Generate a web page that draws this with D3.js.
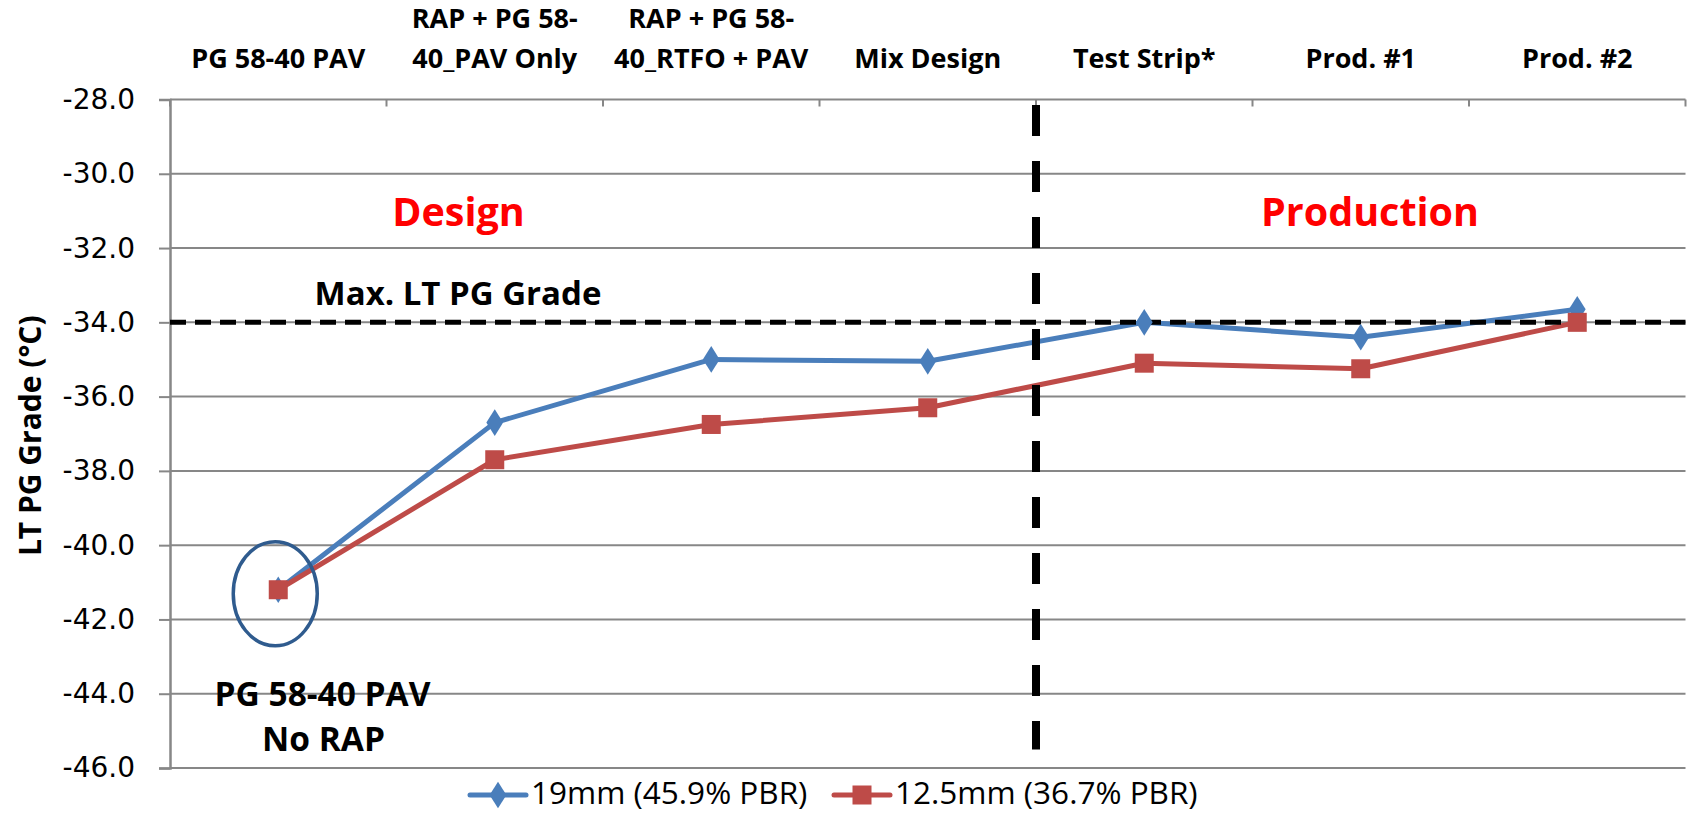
<!DOCTYPE html>
<html>
<head>
<meta charset="utf-8">
<script src="https://cdn.jsdelivr.net/npm/d3@7/dist/d3.min.js"></script>
<style>
  html, body { margin: 0; padding: 0; background: #fff; }
  svg { display: block; }
  .bold { font-family: "Open Sans", "Liberation Sans", sans-serif; font-weight: 700; }
  .tick-label { font-family: "DejaVu Sans", Verdana, sans-serif; }
</style>
</head>
<body>
<svg id="chart" width="1688" height="813"></svg>
<script>
// Stages of the mix, left to right
const categories = [
  ["PG 58-40 PAV"],
  ["RAP + PG 58-", "40_PAV Only"],
  ["RAP + PG 58-", "40_RTFO + PAV"],
  ["Mix Design"],
  ["Test Strip*"],
  ["Prod. #1"],
  ["Prod. #2"]
];
const categoryKeys = ["pav", "rapPav", "rapRtfo", "mix", "strip", "prod1", "prod2"];

// Low-temperature PG grade (°C) per stage
const series19mm  = [-41.2, -36.7, -35.0, -35.05, -34.0, -34.4, -33.65];
const series125mm = [-41.2, -37.7, -36.75, -36.3, -35.1, -35.25, -34.0];

const seriesNames = ["19mm (45.9% PBR)", "12.5mm (36.7% PBR)"];
const yTicks = [-28, -30, -32, -34, -36, -38, -40, -42, -44, -46];
const maxGrade = -34;
const designEndIndex = 3; // last design stage before production starts

const svg = d3.select("#chart");
const plot = { left: 170, right: 1685.5, top: 99.5, bottom: 768 };

const x = d3.scaleBand().domain(categoryKeys).range([plot.left, plot.right]).padding(0);
const y = d3.scaleLinear().domain([-28, -46]).range([plot.top, plot.bottom]);

const gridColor = "#878787";
const blue = "#4A7EBB";
const red = "#BE4B48";

// Horizontal gridlines
svg.append("g").selectAll("line").data(yTicks).join("line")
  .attr("x1", plot.left).attr("x2", plot.right)
  .attr("y1", d => y(d)).attr("y2", d => y(d))
  .attr("stroke", gridColor).attr("stroke-width", 2);

// Left value axis
const yAxis = svg.append("g").attr("transform", `translate(${plot.left},0)`)
  .call(d3.axisLeft(y).tickValues(yTicks).tickSize(11).tickPadding(24).tickFormat(d3.format(".1f")));
yAxis.select(".domain").attr("stroke", gridColor).attr("stroke-width", 2.5);
yAxis.selectAll(".tick line").attr("stroke", gridColor).attr("stroke-width", 2);
yAxis.selectAll(".tick text")
  .attr("class", "tick-label").attr("font-size", 28).attr("fill", "#000")
  .text(d => d3.format(".1f")(d).replace("−", "-"));

// Category axis along the top with ticks hanging down at boundaries
const boundaries = categoryKeys.map(k => x(k)).concat([plot.right]);
svg.append("g").selectAll("line").data(boundaries).join("line")
  .attr("x1", d => d).attr("x2", d => d)
  .attr("y1", plot.top).attr("y2", plot.top + 7)
  .attr("stroke", gridColor).attr("stroke-width", 2);

// Category labels above the plot
const catG = svg.append("g");
categories.forEach((lines, i) => {
  const cx = x(categoryKeys[i]) + x.bandwidth() / 2;
  const t = catG.append("text").attr("class", "bold").attr("font-size", 27)
    .attr("text-anchor", "middle").attr("fill", "#000");
  lines.forEach((ln, j) => {
    t.append("tspan").attr("x", cx)
      .attr("y", 67.7 - (lines.length - 1 - j) * 40).text(ln);
  });
});

// Y axis title
svg.append("text").attr("class", "bold").attr("font-size", 30)
  .attr("text-anchor", "middle")
  .attr("transform", `translate(41,${(plot.top + plot.bottom) / 2 + 2}) rotate(-90)`)
  .text("LT PG Grade (°C)");

// Series lines
const line = d3.line()
  .x((d, i) => x(categoryKeys[i]) + x.bandwidth() / 2)
  .y(d => y(d));

svg.append("path").datum(series19mm).attr("d", line)
  .attr("fill", "none").attr("stroke", blue).attr("stroke-width", 5).attr("stroke-linejoin", "round");
svg.append("path").datum(series125mm).attr("d", line)
  .attr("fill", "none").attr("stroke", red).attr("stroke-width", 5).attr("stroke-linejoin", "round");

// Maximum LT PG grade reference line
svg.append("line")
  .attr("x1", plot.left).attr("x2", plot.right)
  .attr("y1", y(maxGrade)).attr("y2", y(maxGrade))
  .attr("stroke", "#000").attr("stroke-width", 5).attr("stroke-dasharray", "16 9");

// Design / production divider
const dividerX = x(categoryKeys[designEndIndex]) + x.bandwidth();
svg.append("line")
  .attr("x1", dividerX).attr("x2", dividerX)
  .attr("y1", plot.top + 5.5).attr("y2", y(-45.5))
  .attr("stroke", "#000").attr("stroke-width", 8).attr("stroke-dasharray", "31 25");

// Markers
const diamond = d3.symbol().type(d3.symbolDiamond).size(170);
svg.append("g").selectAll("path").data(series19mm).join("path")
  .attr("d", diamond)
  .attr("transform", (d, i) => `translate(${x(categoryKeys[i]) + x.bandwidth() / 2},${y(d)}) scale(1.2,1.1)`)
  .attr("fill", blue);
svg.append("g").selectAll("rect").data(series125mm).join("rect")
  .attr("x", (d, i) => x(categoryKeys[i]) + x.bandwidth() / 2 - 9.5)
  .attr("y", d => y(d) - 9.5)
  .attr("width", 19).attr("height", 19)
  .attr("fill", red);

// Highlight ring around the unmodified binder point
svg.append("ellipse")
  .attr("cx", x(categoryKeys[0]) + x.bandwidth() / 2 - 3)
  .attr("cy", y(series125mm[0]) + 4)
  .attr("rx", 42).attr("ry", 52)
  .attr("fill", "none").attr("stroke", "#2F5B8E").attr("stroke-width", 3.5);

// Annotations
svg.append("text").attr("class", "bold").attr("font-size", 33.5).attr("text-anchor", "middle")
  .attr("x", 322.5).attr("y", 705.7).text("PG 58-40 PAV");
svg.append("text").attr("class", "bold").attr("font-size", 33.5).attr("text-anchor", "middle")
  .attr("x", 323.5).attr("y", 750.7).text("No RAP");

svg.append("text").attr("class", "bold").attr("font-size", 33).attr("text-anchor", "middle")
  .attr("x", 458).attr("y", 305).text("Max. LT PG Grade");

svg.append("text").attr("class", "bold").attr("font-size", 39.5).attr("text-anchor", "middle")
  .attr("fill", "#FF0000").attr("x", 458.5).attr("y", 226).text("Design");
svg.append("text").attr("class", "bold").attr("font-size", 39.5).attr("text-anchor", "middle")
  .attr("fill", "#FF0000").attr("x", 1370).attr("y", 226).text("Production");

// Legend
const legend = [
  { name: seriesNames[0], color: blue, x0: 470, shape: "diamond" },
  { name: seriesNames[1], color: red, x0: 834, shape: "square" }
];
const legendY = 795;
legend.forEach(l => {
  svg.append("line").attr("x1", l.x0).attr("x2", l.x0 + 56)
    .attr("y1", legendY).attr("y2", legendY)
    .attr("stroke", l.color).attr("stroke-width", 5).attr("stroke-linecap", "round");
  if (l.shape === "diamond") {
    svg.append("path").attr("d", diamond)
      .attr("transform", `translate(${l.x0 + 28},${legendY}) scale(1.2,1.1)`)
      .attr("fill", l.color);
  } else {
    svg.append("rect").attr("x", l.x0 + 28 - 9.5).attr("y", legendY - 9.5)
      .attr("width", 19).attr("height", 19).attr("fill", l.color);
  }
  svg.append("text").attr("x", l.x0 + 61).attr("y", 804)
    .attr("font-family", "'Open Sans', sans-serif").attr("font-size", 31.5)
    .attr("fill", "#000").text(l.name);
});
</script>
</body>
</html>
